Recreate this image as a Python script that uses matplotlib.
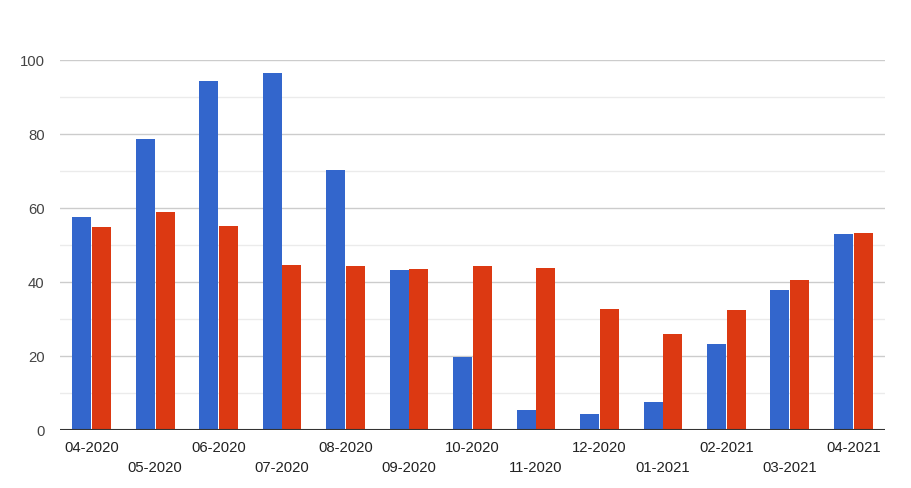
import numpy as np
import matplotlib
matplotlib.use('Agg')
import matplotlib.pyplot as plt

months = ['04-2020', '05-2020', '06-2020', '07-2020', '08-2020', '09-2020', '10-2020',
          '11-2020', '12-2020', '01-2021', '02-2021', '03-2021', '04-2021']
blue_vals = [57.3, 78.4, 94.1, 96.3, 70.1, 43.0, 19.7, 5.4, 4.3, 7.3, 23.0, 37.6, 52.8]
red_vals = [54.6, 58.7, 54.9, 44.4, 44.1, 43.3, 44.1, 43.6, 32.5, 25.7, 32.2, 40.3, 53.0]
y_ticks = [0, 20, 40, 60, 80, 100]

plt.rcParams['font.family'] = ['Liberation Sans', 'DejaVu Sans']

W, H = 911, 489
fig = plt.figure(figsize=(W/100, H/100), dpi=100)
ax = fig.add_axes([60/W, 1-430.5/H, 825/W, 370/H])

x = np.arange(len(months))
bw = 0.3
ax.bar(x - 0.155, blue_vals, bw, color='#3366cc', zorder=3)
ax.bar(x + 0.155, red_vals, bw, color='#dc3912', zorder=3)

ax.set_xlim(-0.5, len(months) - 0.5)
ax.set_ylim(0, 100)

# gridlines
for v in range(10, 100, 20):
    ax.axhline(v, color='#ebebeb', lw=1, zorder=1)
for v in y_ticks[1:]:
    ax.axhline(v, color='#cccccc', lw=1, zorder=1)
ax.axhline(0, color='#333333', lw=1.5, zorder=4)

for s in ax.spines.values():
    s.set_visible(False)

ax.set_yticks(y_ticks)
ax.set_yticklabels([str(v) for v in y_ticks])
ax.tick_params(axis='y', length=0, pad=11, labelsize=10.7, labelcolor='#444444')

ax.set_xticks(x)
ax.set_xticklabels([])
ax.tick_params(axis='x', length=0)
for i, m in enumerate(months):
    yoff = -17.5 if i % 2 == 0 else -37.5
    ax.annotate(m, (i, 0), xytext=(0, yoff), textcoords='offset pixels',
                ha='center', va='center', fontsize=10.7, color='#222222',
                annotation_clip=False)

fig.savefig('out.png', dpi=100)
